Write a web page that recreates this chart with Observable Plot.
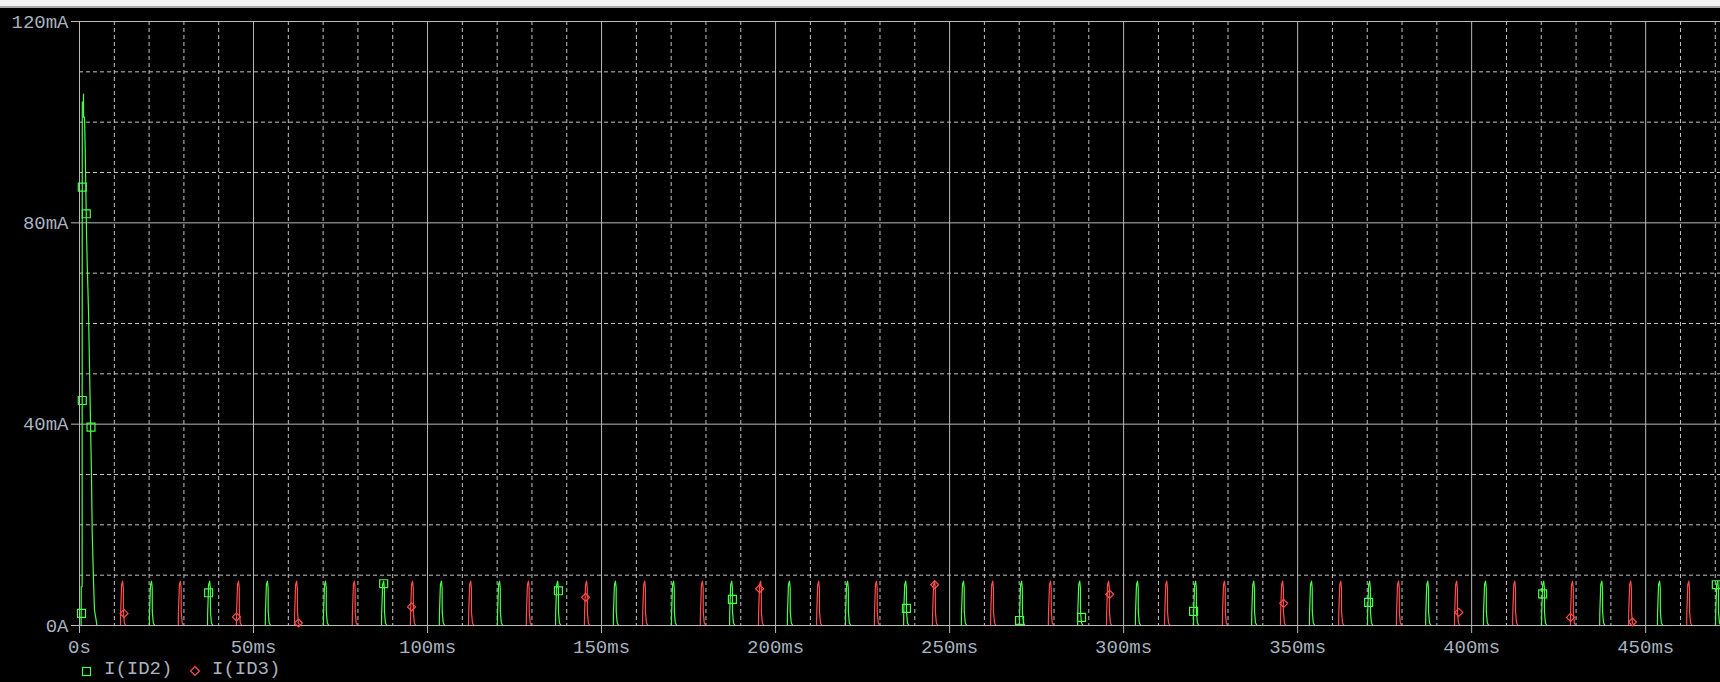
<!DOCTYPE html>
<html><head><meta charset="utf-8">
<script src="https://cdn.jsdelivr.net/npm/d3@7"></script>
<script src="https://cdn.jsdelivr.net/npm/@observablehq/plot@0.6"></script>
<style>
html,body{margin:0;padding:0;background:#000;width:1720px;height:682px;overflow:hidden;}
#topbar{height:6px;background:#f3f3f3;border-bottom:2px solid #a9a9a9;}
#chart svg{display:block;}
#legend{position:relative;height:24px;font-family:"Liberation Mono",monospace;font-size:19px;color:#a7b3bf;}
#legend span{position:absolute;top:2px;line-height:19px;white-space:pre;}
#legend svg{position:absolute;}
</style>
</head><body>
<div id="topbar"></div>
<div id="chart"></div>
<div id="legend"></div>
<script>
// ---- data (time in ms, current in mA) ----
const xEnd = 471.5;
const xTicks = [0, 50, 100, 150, 200, 250, 300, 350, 400, 450];
const xTickLabels = ["0s", "50ms", "100ms", "150ms", "200ms", "250ms", "300ms", "350ms", "400ms", "450ms"];
const yTicks = [0, 40, 80, 120];
const yTickLabels = ["0A", "40mA", "80mA", "120mA"];
const yMinorTicks = [10, 20, 30, 50, 60, 70, 90, 100, 110];

// I(ID2) inrush spike at start
const greenInrushT = [0, 0.47, 0.5, 0.76, 0.8, 1.12, 1.15, 1.17, 1.44, 1.64, 1.93, 2.0, 2.21, 2.59, 2.87, 3.16, 3.45, 3.65, 4.02, 4.31, 4.8, 5.0];
const greenInrushI = [0, 0, 7.7, 7.7, 104, 104, 105.6, 101, 101, 94.5, 82, 78.6, 72, 62.5, 51.6, 40.4, 29.5, 18.6, 9, 3, 1, 0];

// shape of one conduction pulse (offset from peak, current)
const pulseDt = [-0.62, -0.58, -0.3, 0, 0.2, 0.22, 0.5, 0.95];
const pulseI = [0, 2.4, 8.1, 8.8, 7.4, 2.7, 0.5, 0];

// peak times of the periodic pulses
const greenPulseTimes = [20.7, 37.4, 54.0, 70.7, 87.4, 104.0, 120.7, 137.4, 154.0, 170.7, 187.4, 204.0, 220.7, 237.4, 254.0, 270.7, 287.4, 304.0, 320.7, 337.4, 354.0, 370.7, 387.4, 404.0, 420.7, 437.4, 454.0, 470.7];
const redPulseTimes = [12.4, 29.0, 45.7, 62.4, 79.0, 95.7, 112.4, 129.0, 145.7, 162.4, 179.0, 195.7, 212.4, 229.0, 245.7, 262.4, 279.0, 295.7, 312.4, 329.0, 345.7, 362.4, 379.0, 395.7, 412.4, 429.0, 445.7, 462.4];

// trace markers
const greenMarkerT = [0.57, 0.8, 0.8, 1.95, 3.3, 37.1, 87.4, 137.6, 187.6, 237.6, 270.1, 287.9, 320.1, 370.4, 420.4, 470.3];
const greenMarkerI = [2.4, 44.7, 87.1, 81.8, 39.4, 6.5, 8.3, 6.9, 5.2, 3.4, 1.0, 1.6, 2.8, 4.6, 6.3, 8.1];
const redMarkerT = [12.8, 45.1, 62.9, 95.4, 145.4, 195.4, 245.7, 296.0, 346.0, 396.3, 428.4, 446.2];
const redMarkerI = [2.4, 1.7, 0.5, 3.7, 5.6, 7.3, 8.1, 6.2, 4.4, 2.6, 1.6, 0.7];

const seriesNames = ["I(ID2)", "I(ID3)"];

// ---- styles ----
const greenColor = "#47ff47";
const redColor = "#ff4d4d";
const gridSolid = "#b9b9b9";
const gridDash = "#c4c4c4";
const textColor = "#a7b3bf";

// ---- build tables ----
const green = greenInrushT.map((t, k) => ({t, i: greenInrushI[k]}));
greenPulseTimes.forEach(t0 => pulseDt.forEach((dt, k) => green.push({t: t0 + dt, i: pulseI[k]})));
green.push({t: xEnd, i: 0});
const red = [{t: 0, i: 0}];
redPulseTimes.forEach(t0 => pulseDt.forEach((dt, k) => red.push({t: t0 + dt, i: pulseI[k]})));
red.push({t: xEnd, i: 0});
const greenMarkers = greenMarkerT.map((t, k) => ({t, i: greenMarkerI[k]}));
const redMarkers = redMarkerT.map((t, k) => ({t, i: redMarkerI[k]}));

const xMinor = d3.range(10, xEnd, 10).filter(v => v % 50 !== 0);
const xLab = new Map(xTicks.map((v, k) => [v, xTickLabels[k]]));
const yLab = new Map(yTicks.map((v, k) => [v, yTickLabels[k]]));

const chart = Plot.plot({
  width: 1720, height: 650,
  marginTop: 13, marginBottom: 33, marginLeft: 79, marginRight: 0,
  style: {background: "#000", color: textColor, fontFamily: "Liberation Mono, monospace", fontSize: "19px"},
  x: {domain: [0, xEnd], axis: null},
  y: {domain: [0, 120], axis: null},
  marks: [
    Plot.ruleX(xMinor, {stroke: gridDash, strokeDasharray: "4,3", strokeWidth: 1}),
    Plot.ruleY(yMinorTicks, {stroke: gridDash, strokeDasharray: "4,3", strokeWidth: 1}),
    Plot.ruleX(xTicks, {stroke: gridSolid, strokeWidth: 1}),
    Plot.ruleY(yTicks, {stroke: gridSolid, strokeWidth: 1}),
    Plot.axisX(xTicks, {label: null, tickSize: 8, tickPadding: 6, tickFormat: d => xLab.get(d), stroke: gridSolid, fill: textColor, fontSize: 19}),
    Plot.axisY(yTicks, {label: null, tickSize: 8, tickPadding: 3, tickFormat: d => yLab.get(d), stroke: gridSolid, fill: textColor, fontSize: 19}),
    Plot.line(green, {x: "t", y: "i", stroke: greenColor, strokeWidth: 1.2, clip: true}),
    Plot.line(red, {x: "t", y: "i", stroke: redColor, strokeWidth: 1.2, clip: true}),
    Plot.dot(greenMarkers, {x: "t", y: "i", symbol: "square", r: 4.5, stroke: greenColor, fill: "none", strokeWidth: 1.2}),
    Plot.dot(redMarkers, {x: "t", y: "i", symbol: "diamond2", r: 3.6, stroke: redColor, fill: "none", strokeWidth: 1.2})
  ]
});
document.getElementById("chart").appendChild(chart);

// legend
const lg = document.getElementById("legend");
lg.innerHTML =
  `<svg style="left:81px;top:8px" width="11" height="11"><rect x="1.5" y="1.5" width="8" height="8" fill="none" stroke="${greenColor}" stroke-width="1.2"/></svg>` +
  `<span style="left:104px">${seriesNames[0]}</span>` +
  `<svg style="left:189px;top:7px" width="12" height="12"><path d="M6,1.5L10.5,6L6,10.5L1.5,6Z" fill="none" stroke="${redColor}" stroke-width="1.2"/></svg>` +
  `<span style="left:212px">${seriesNames[1]}</span>`;
</script>
</body></html>
